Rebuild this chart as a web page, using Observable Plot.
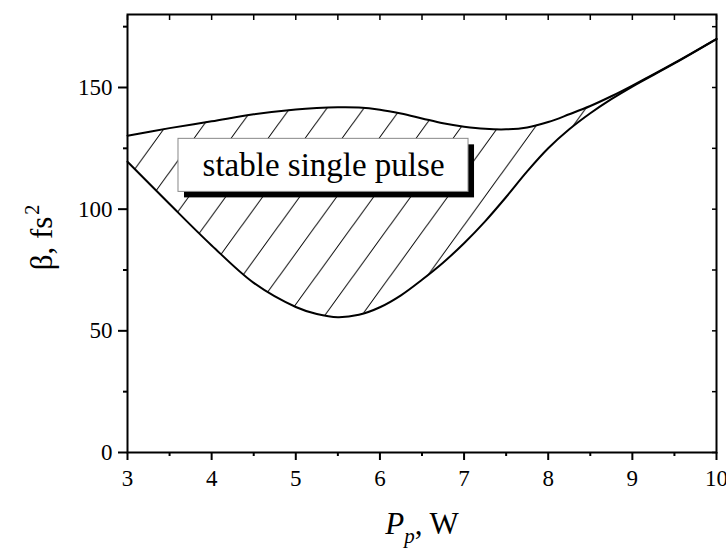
<!DOCTYPE html>
<html><head><meta charset="utf-8">
<script src="https://cdn.jsdelivr.net/npm/d3@7"></script>
<script src="https://cdn.jsdelivr.net/npm/@observablehq/plot@0.6"></script>
<style>
html,body{margin:0;padding:0;background:#fff;}
#chart{width:726px;height:548px;}
#chart svg, #chart svg text, #chart svg tspan{font-family:"Liberation Serif","Times New Roman",serif !important;}
</style></head><body><div id="chart"></div>
<script>
// ---- data ----
const power     = [3, 3.5, 4, 4.5, 5, 5.25, 5.5, 5.75, 6, 6.25, 6.5, 6.75, 7, 7.25, 7.5, 7.75, 8, 8.25, 8.5, 8.75, 9, 9.5, 10];
const betaUpper = [130.2, 133.3, 136.1, 139.0, 141.0, 141.6, 141.9, 141.8, 140.9, 139.3, 137.3, 135.3, 133.9, 133.0, 132.8, 133.6, 135.8, 139.0, 142.4, 146.4, 150.8, 160.1, 170.0];
const betaLower = [119.5, 102.1, 85.1, 69.7, 59.8, 56.9, 55.6, 56.6, 59.7, 64.6, 71.0, 78.0, 86.0, 95.0, 105.0, 115.5, 125.0, 132.8, 139.4, 145.2, 150.4, 159.9, 169.9];

const xTicks = [3, 4, 5, 6, 7, 8, 9, 10];
const xMinor = [3.5, 4.5, 5.5, 6.5, 7.5, 8.5, 9.5];
const yTicks = [0, 50, 100, 150];
const yMinor = [25, 75, 125, 175];

const noteText = ["stable single pulse"];
const xLabel = ["P, W"];
const yLabel = ["β, fs2"];

// ---- build ----
const data = power.map((p, i) => ({p, upper: betaUpper[i], lower: betaLower[i]}));
const note = {x1: 3.606, x2: 7.053, y1: 107.1, y2: 128.9, cx: 5.33, cy: 117.9, text: noteText[0]};
const serif = "Liberation Serif";
const blank = () => "";
const plain = d => String(d);

const plot = Plot.plot({
  width: 726, height: 548,
  marginLeft: 127, marginRight: 10, marginTop: 14, marginBottom: 96,
  style: {fontFamily: serif, fontSize: "23px", color: "#000", background: "#fff", overflow: "visible"},
  x: {domain: [3, 10], label: null},
  y: {domain: [0, 180], label: null},
  marks: [
    Plot.areaY(data, {x: "p", y1: "lower", y2: "upper", curve: "catmull-rom", fill: "url(#hatch)"}),
    Plot.line(data, {x: "p", y: "upper", curve: "catmull-rom", stroke: "#000", strokeWidth: 2}),
    Plot.line(data, {x: "p", y: "lower", curve: "catmull-rom", stroke: "#000", strokeWidth: 2}),
    Plot.rect([note], {x1: "x1", x2: "x2", y1: "y1", y2: "y2", fill: "#000", dx: 6, dy: 6}),
    Plot.rect([note], {x1: "x1", x2: "x2", y1: "y1", y2: "y2", fill: "#fff", stroke: "#888", strokeWidth: 1}),
    Plot.text([note], {x: "cx", y: "cy", text: "text", fontSize: 33, fontFamily: serif, fill: "#000"}),
    Plot.frame({stroke: "#000", strokeWidth: 2}),
    Plot.axisX({ticks: xTicks, tickFormat: plain, tickSize: 8, tickPadding: 9, fontSize: 23, fontFamily: serif, strokeWidth: 2}),
    Plot.axisX({ticks: xMinor, tickSize: 4, tickFormat: blank, strokeWidth: 2}),
    Plot.axisX({anchor: "top", ticks: xTicks.concat(xMinor), tickSize: -5, tickFormat: blank, strokeWidth: 1.5}),
    Plot.axisY({ticks: yTicks, tickFormat: plain, tickSize: 9, tickPadding: 6, fontSize: 23, fontFamily: serif, strokeWidth: 2}),
    Plot.axisY({ticks: yMinor, tickSize: 4, tickFormat: blank, strokeWidth: 2}),
    Plot.axisY({anchor: "right", ticks: yTicks.concat(yMinor), tickSize: -5, tickFormat: blank, strokeWidth: 1.5}),
    Plot.text(xLabel, {frameAnchor: "bottom", textAnchor: "middle", dy: 81, fontSize: 31, fontFamily: serif, fill: "#000"}),
    Plot.text(yLabel, {frameAnchor: "left", textAnchor: "middle", dx: -85, dy: 4, rotate: -90, fontSize: 31, fontFamily: serif, fill: "#000"})
  ]
});

const svg = d3.select(plot);
// hatch pattern (style of the stable region)
const hw = 37, hh = hw * 1.38;
const ax = plot.scale("x").apply(3.927), ay = plot.scale("y").apply(135.1);
const pat = svg.insert("defs", ":first-child").append("pattern")
  .attr("id", "hatch").attr("patternUnits", "userSpaceOnUse")
  .attr("x", ax).attr("y", ay - hh).attr("width", hw).attr("height", hh);
pat.append("path")
  .attr("d", `M${-hw},${2*hh}L${2*hw},${-hh}M${-2*hw},${2*hh}L${hw},${-hh}M0,${2*hh}L${3*hw},${-hh}`)
  .attr("stroke", "#000").attr("stroke-width", 1).attr("fill", "none");

const byText = s => svg.selectAll("text").filter(function () { return this.textContent === s; });

// x label with italic P and subscript p
const xl = byText(xLabel[0]);
xl.attr("dy", null).text(null);
xl.append("tspan").attr("font-style", "italic").text("P");
xl.append("tspan").attr("font-style", "italic").attr("font-size", 21).attr("dy", 9).text("p");
xl.append("tspan").attr("dy", -9).text(", W");

// y label with superscript 2
const yl = byText(yLabel[0]);
yl.attr("dy", null).text(null);
yl.append("tspan").text("β, fs");
yl.append("tspan").attr("font-size", 20).attr("dx", 2).attr("dy", -13).text("2");

document.getElementById("chart").appendChild(plot);
</script>
</body></html>
